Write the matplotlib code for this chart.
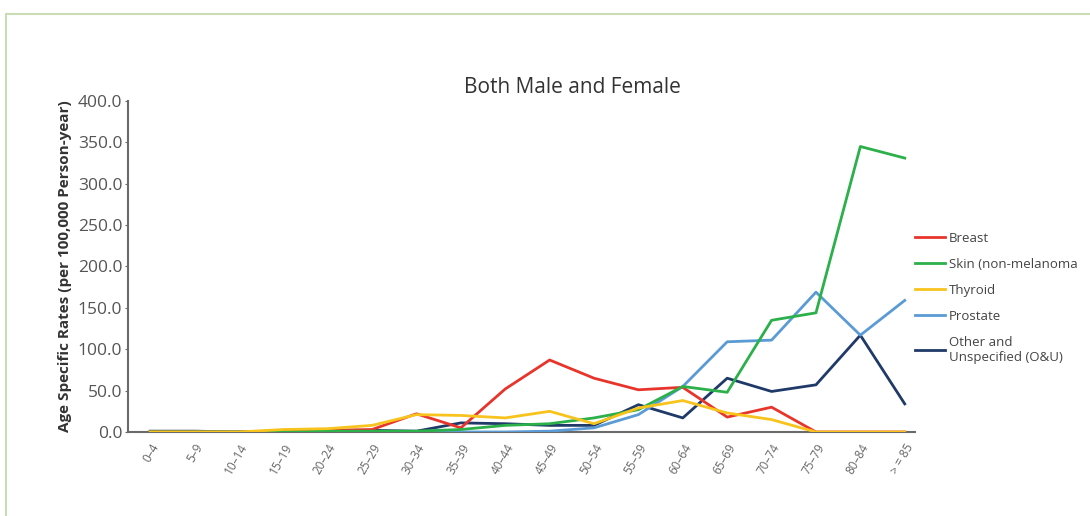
import numpy as np
import matplotlib.pyplot as plt
from matplotlib.patches import Rectangle

plt.rcParams['font.family'] = ['Open Sans', 'DejaVu Sans']

# age groups
ages = ["0–4", "5–9", "10–14", "15–19", "20–24", "25–29", "30–34", "35–39",
        "40–44", "45–49", "50–54", "55–59", "60–64", "65–69", "70–74",
        "75–79", "80–84", "> = 85"]

# rates per 100,000 person-year
breast   = [0, 0, 0, 1, 2, 3, 22, 5, 52, 87, 65, 51, 54, 18, 30, 0, 0, 0]
skin     = [0, 0, 0, 0, 1, 1, 1, 3, 8, 10, 17, 27, 55, 48, 135, 144, 345, 331]
thyroid  = [0, 0, 0, 3, 4, 8, 21, 20, 17, 25, 10, 29, 38, 23, 15, 0, 0, 0]
prostate = [0, 0, 0, 0, 0, 0, 0, 0, 0, 1, 5, 21, 55, 109, 111, 169, 117, 159]
other    = [1, 1, 0, 1, 2, 2, 1, 11, 10, 8, 8, 33, 17, 65, 49, 57, 117, 34]

series = [("Breast", breast, "#e8352b", 4),
          ("Skin (non-melanoma", skin, "#2bb04a", 5),
          ("Thyroid", thyroid, "#f7c31c", 6),
          ("Prostate", prostate, "#5b9bd5", 3),
          ("Other and\nUnspecified (O&U)", other, "#1f3a68", 2)]

fig = plt.figure(figsize=(10.9, 5.16), dpi=100)
ax = fig.add_axes([0.1174, 0.1628, 0.722, 0.6415])

x = np.arange(len(ages))
for name, vals, col, z in series:
    ax.plot(x, vals, color=col, lw=2.0, label=name, zorder=z)

ax.set_xlim(-0.5, 17.23)
ax.set_ylim(0, 400)
ax.set_yticks(np.arange(0, 401, 50))
ax.set_yticklabels([f"{v:.1f}" for v in np.arange(0, 401, 50)])
ax.set_xticks(x)
ax.set_xticklabels(ages, rotation=60, ha="right", rotation_mode="anchor")

for s in ["top", "right"]:
    ax.spines[s].set_visible(False)
for s in ["left", "bottom"]:
    ax.spines[s].set_color("#6a6a6a")
    ax.spines[s].set_linewidth(1.5)
ax.spines["bottom"].set_zorder(1)

ax.tick_params(axis="y", length=2, colors="#6a6a6a", labelsize=12.5,
               labelcolor="#555555", pad=2)
ax.tick_params(axis="x", length=0, labelsize=8.5, labelcolor="#666666", pad=7)

ax.set_ylabel("Age Specific Rates (per 100,000 Person-year)", fontsize=11,
              fontweight="bold", color="#333333", labelpad=4)
ax.set_title("Both Male and Female", fontsize=15, color="#333333", pad=6,
             x=0.565)

leg = ax.legend(loc="upper left", bbox_to_anchor=(0.985, 0.64), frameon=False,
                fontsize=9.5, handlelength=2.3, handletextpad=0.25,
                labelspacing=0.98, labelcolor="#444444")

# light green frame around the figure
fig.patches.append(Rectangle((6 / 1090, -0.1), 1.1, 1 - 14 / 516 + 0.1,
                             transform=fig.transFigure, fill=False,
                             edgecolor="#c9dcb6", lw=1.5))

fig.savefig("out.png", dpi=100)
